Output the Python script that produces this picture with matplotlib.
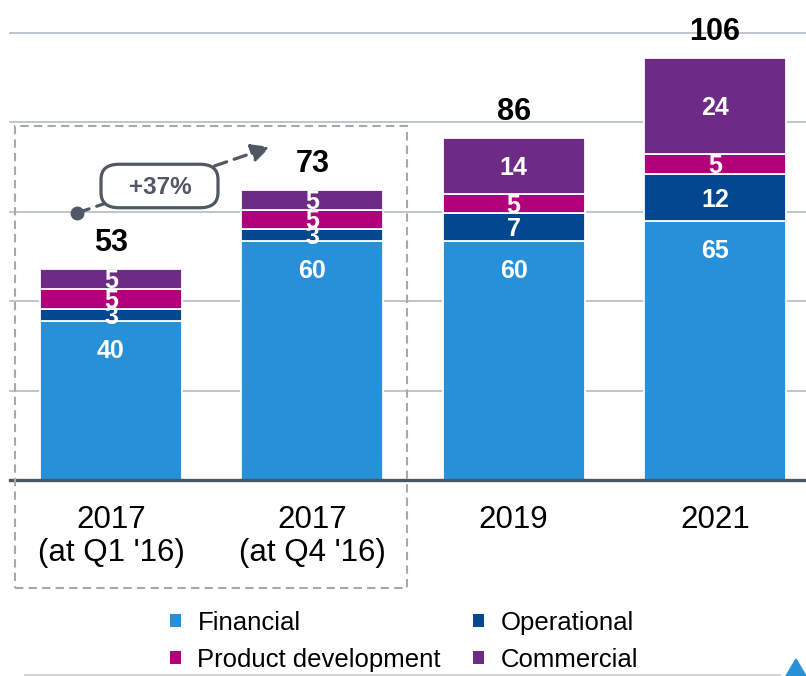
import numpy as np
import matplotlib.pyplot as plt
from matplotlib.patches import Patch, Rectangle, FancyBboxPatch, Polygon
from matplotlib.lines import Line2D

plt.rcParams['font.family'] = ['Liberation Sans', 'DejaVu Sans']

# -------------------------------------------------
# data
# -------------------------------------------------
categories = ["2017\n(at Q1 '16)", "2017\n(at Q4 '16)", "2019", "2021"]
financial = [40, 60, 60, 65]
operational = [3, 3, 7, 12]
product_dev = [5, 5, 5, 5]
commercial = [5, 5, 14, 24]
totals = [53, 73, 86, 106]

series_names = ["Financial", "Operational", "Product development", "Commercial"]
series_colors = ["#2690d8", "#02478f", "#b2007d", "#6d2b85"]
growth_label = "+37%"

# -------------------------------------------------
# figure / axes
# -------------------------------------------------
W, H = 806, 676
fig = plt.figure(figsize=(W / 100, H / 100), dpi=100)
base_px = 480
ax = fig.add_axes([0, (H - base_px) / H, 1, base_px / H])

px_per_unit = 89.5 / 22.5
ax.set_ylim(0, base_px / px_per_unit)
ax.set_xlim(-0.551, 3.452)
x = np.arange(len(categories))
bar_w = 0.705

# gridlines
for g in np.arange(1, 6) * 22.5:
    ax.axhline(g, xmin=10 / W, color="#b3bbc5", lw=1.2, zorder=0)
ax.axhline(0, xmin=10 / W, color="#4d5561", lw=2.4, zorder=4, clip_on=False)

# stacked bars
bottom = np.zeros(len(x))
stack = [financial, operational, product_dev, commercial]
for k, (vals, name, col) in enumerate(zip(stack, series_names, series_colors)):
    vals = np.array(vals, dtype=float)
    ax.bar(x, vals, bar_w, bottom=bottom, color=col, edgecolor="white",
           linewidth=1.3, zorder=2, label=name)
    for xi, b, v in zip(x, bottom, vals):
        if k == 0:
            # financial label sits near the top of its segment
            ax.annotate(f"{v:g}", (xi, b + v), xytext=(0, -30),
                        textcoords="offset pixels", ha="center", va="center",
                        color="white", fontsize=18, fontweight="bold", zorder=5)
        else:
            ax.annotate(f"{v:g}", (xi, b + v / 2), xytext=(0, -2),
                        textcoords="offset pixels", ha="center", va="center",
                        color="white", fontsize=18, fontweight="bold", zorder=5)
    bottom += vals

for xi, t in zip(x, totals):
    ax.annotate(str(t), (xi, t), xytext=(0, 18), textcoords="offset pixels",
                ha="center", va="baseline", fontsize=22, fontweight="bold",
                color="black", zorder=5)

ax.set_xticks(x, categories, fontsize=22.5, linespacing=1.12)
ax.set_yticks([])
ax.tick_params(axis="x", length=0, pad=18)
for s in ax.spines.values():
    s.set_visible(False)

# -------------------------------------------------
# dashed box around the two 2017 bars
# -------------------------------------------------
def fp(px, py):
    return (px / W, (H - py) / H)

fig.patches.append(Rectangle(fp(15, 588), (407 - 15) / W, (588 - 126) / H,
                             transform=fig.transFigure, fill=False,
                             edgecolor="#a8a8a8", lw=1.5, ls=(0, (4, 2.5)),
                             zorder=1))

# growth arrow
ann_col = "#4f5863"
ax.annotate("", xy=(270, H - 147), xytext=(77, H - 213),
            xycoords="figure pixels", textcoords="figure pixels",
            arrowprops=dict(arrowstyle="-|>,head_length=1.1,head_width=0.55",
                            color=ann_col, lw=2.3, ls=(0, (4, 2.5)),
                            shrinkA=0, shrinkB=0), zorder=6)
fig.add_artist(Line2D([77 / W], [(H - 213) / H], marker="o", ms=9,
                      color=ann_col, transform=fig.transFigure, zorder=6))
box = FancyBboxPatch(fp(101 + 14, 210 - 14), (218 - 101 - 28) / W,
                     (210 - 162 - 28) / H,
                     boxstyle="round,pad=0.0,rounding_size=0",
                     transform=fig.transFigure, facecolor="white",
                     edgecolor=ann_col, lw=2.3, zorder=7)
box.set_boxstyle("round", pad=14 / W, rounding_size=18 / W)
fig.patches.append(box)
fig.text(*fp(160, 187), growth_label, ha="center", va="center",
         fontsize=17.5, fontweight="bold", color=ann_col, zorder=8)

# -------------------------------------------------
# legend
# -------------------------------------------------
order = [0, 2, 1, 3]
handles = [Patch(facecolor=series_colors[i]) for i in order]
labels = [series_names[i] for i in order]
fig.legend(handles, labels, ncol=2, loc="upper left",
           bbox_to_anchor=fp(170, 611), frameon=False, fontsize=18.5,
           handlelength=0.42, handleheight=0.42, handletextpad=0.65,
           columnspacing=1.25, labelspacing=0.5, borderpad=0, borderaxespad=0)

# slide footer bits
fig.add_artist(Line2D([25 / W, 780 / W], [1.5 / H, 1.5 / H],
                      color="#d4d4d4", lw=1.5))
fig.patches.append(Polygon([fp(786, 676), fp(796, 659), fp(806, 676)],
                           closed=True, transform=fig.transFigure,
                           color="#2690d8"))

fig.savefig("out.png", dpi=100)
plt.close(fig)
